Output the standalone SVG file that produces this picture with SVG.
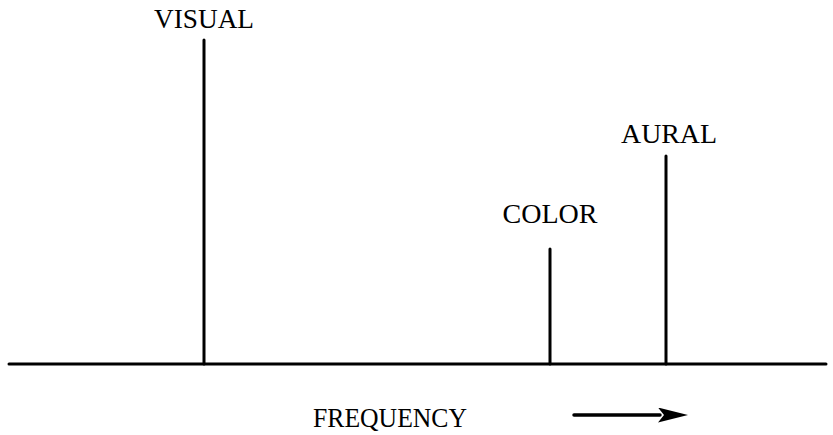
<svg xmlns="http://www.w3.org/2000/svg" width="833" height="435" viewBox="0 0 833 435">
<defs>
<style>
.ln{stroke:#000;stroke-width:3;fill:none;stroke-linecap:round}
.ar{stroke:#000;stroke-width:3.5;fill:none;stroke-linecap:round}
.t{font-family:'Liberation Serif','DejaVu Serif',serif;font-size:27px;fill:#000;text-anchor:middle}
</style>
<marker id="ah" viewBox="0 0 30 15" refX="2" refY="7.5" markerWidth="30" markerHeight="15" markerUnits="userSpaceOnUse" orient="auto">
<path d="M0,0 L30,7.5 L0,15 L6,7.5 Z" fill="#000"/>
</marker>
</defs>
<rect width="833" height="435" fill="#fff"/>
<g id="connectors">
<line class="ln" x1="9" y1="364" x2="826" y2="364"/>
<line class="ar" x1="574" y1="415" x2="660" y2="415" marker-end="url(#ah)"/>
</g>
<g id="visual">
<line class="ln" x1="204" y1="40" x2="204" y2="364"/>
<text class="t" x="204" y="28" textLength="100" lengthAdjust="spacingAndGlyphs">VISUAL</text>
</g>
<g id="color">
<line class="ln" x1="550" y1="249" x2="550" y2="364"/>
<text class="t" x="550" y="223" textLength="95" lengthAdjust="spacingAndGlyphs">COLOR</text>
</g>
<g id="aural">
<line class="ln" x1="666" y1="156" x2="666" y2="364"/>
<text class="t" x="669" y="143" textLength="96" lengthAdjust="spacingAndGlyphs">AURAL</text>
</g>
<g id="frequency">
<text class="t" x="390" y="427" textLength="154" lengthAdjust="spacingAndGlyphs">FREQUENCY</text>
</g>
</svg>
